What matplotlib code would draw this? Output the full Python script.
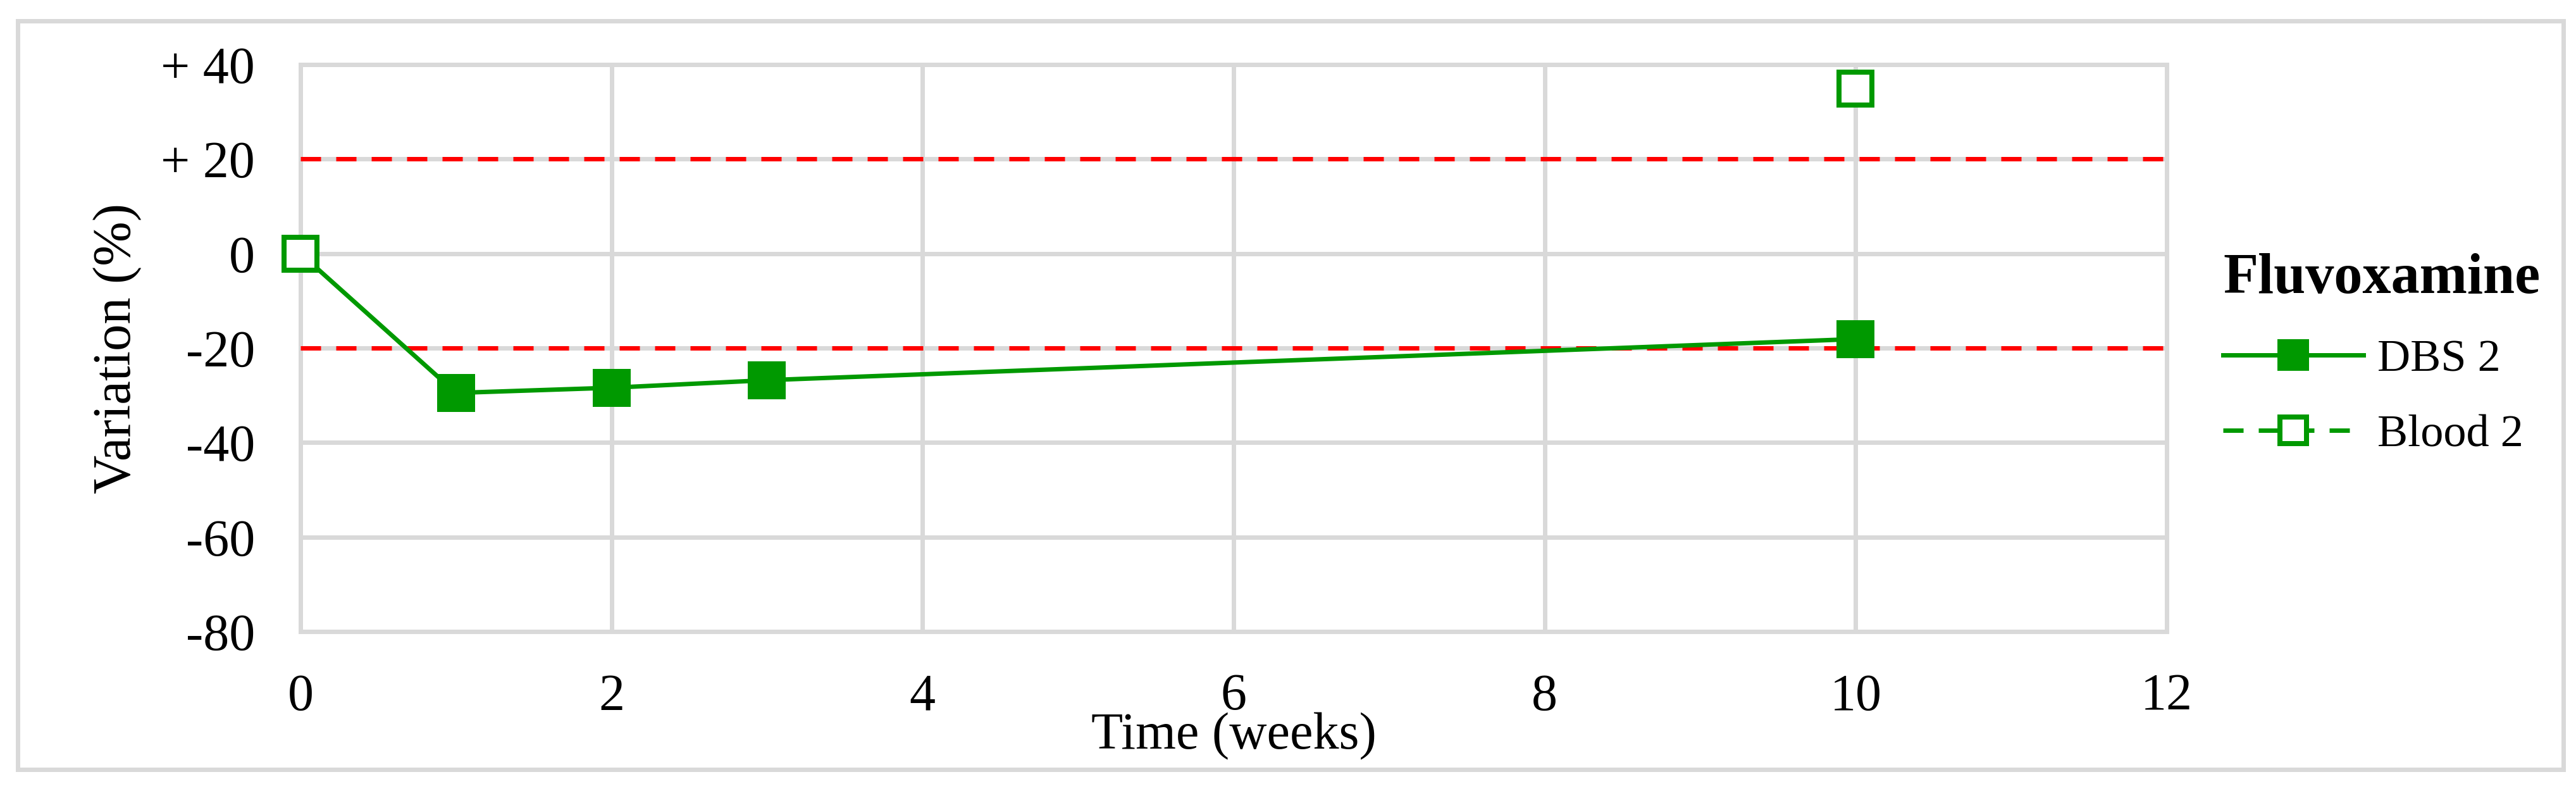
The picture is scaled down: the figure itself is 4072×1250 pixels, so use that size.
import numpy as np
import matplotlib
matplotlib.use("Agg")
import matplotlib.pyplot as plt
from matplotlib.patches import Rectangle

# ---- data ----
weeks = [0, 1, 2, 3, 10]
dbs2 = [0, -29.5, -28.4, -26.8, -18.1]
blood2 = [0, np.nan, np.nan, np.nan, 34.9]
limits = [20, -20]
x_ticks = [0, 2, 4, 6, 8, 10, 12]
y_ticks = [-80, -60, -40, -20, 0, 20, 40]
y_tick_labels = ["-80", "-60", "-40", "-20", "0", "+ 20", "+ 40"]
legend_title = "Fluvoxamine"
series_labels = ["DBS 2", "Blood 2"]

W, H, DPI = 4073, 1250, 100
PX = 72.0 / DPI  # points per pixel

plt.rcParams["font.family"] = ["Liberation Serif", "DejaVu Serif"]

fig = plt.figure(figsize=(W / DPI, H / DPI), dpi=DPI)
fig.patch.set_facecolor("white")

# outer border
fig.patches.append(Rectangle((28 / W, 1 - 1216 / H), (4052 - 28) / W, (1216 - 33) / H,
                             transform=fig.transFigure, fill=False,
                             edgecolor="#d9d9d9", linewidth=7 * PX))

left, right, top, bottom = 475, 3425, 102, 998
ax = fig.add_axes([left / W, 1 - bottom / H, (right - left) / W, (bottom - top) / H])

GREEN = "#009900"
GRID = "#d9d9d9"

ax.set_xlim(0, 12)
ax.set_ylim(-80, 40)
ax.set_xticks(x_ticks)
ax.set_xticklabels([str(t) for t in x_ticks])
ax.set_yticks(y_ticks)
ax.set_yticklabels(y_tick_labels)
ax.grid(True, color=GRID, linewidth=7 * PX, zorder=0)
ax.set_axisbelow(True)
for s in ax.spines.values():
    s.set_color(GRID)
    s.set_linewidth(7 * PX)
    s.set_zorder(0.5)
ax.tick_params(axis="both", length=0, labelsize=59, colors="black")
ax.tick_params(axis="y", pad=72 * PX)
ax.tick_params(axis="x", pad=66 * PX)

dash = (0, (32 / 7, 24 / 7))
for v in limits:
    ax.axhline(v, color="#ff0000", linewidth=7 * PX, linestyle=dash, zorder=1)

ms = 52 * PX
mew = 8 * PX
ax.plot(weeks, dbs2, color=GREEN, linewidth=7 * PX, linestyle="-",
        marker="s", markersize=ms, markerfacecolor=GREEN, markeredgecolor=GREEN,
        markeredgewidth=mew, label=series_labels[0], clip_on=False, zorder=3)
ax.plot(weeks, blood2, color=GREEN, linewidth=7 * PX, linestyle=dash,
        marker="s", markersize=ms, markerfacecolor="white", markeredgecolor=GREEN,
        markeredgewidth=mew, label=series_labels[1], clip_on=False, zorder=4)

ax.set_xlabel("Time (weeks)", fontsize=59)
ax.xaxis.set_label_coords(0.5, (bottom - 1183) / (bottom - top))
ax.xaxis.label.set_va("baseline")

ax.set_ylabel("Variation (%)", fontsize=61)
ax.yaxis.set_label_coords((186 - left) / (right - left), 0.5)
ax.yaxis.label.set_va("center")

leg = ax.legend(loc="upper left", bbox_to_anchor=(3514 / W, 1 - 400 / H),
                bbox_transform=fig.transFigure, frameon=False,
                fontsize=52, title=legend_title,
                title_fontproperties={"size": 65, "weight": "bold"},
                handlelength=3.08, handletextpad=0.3, labelspacing=0.74,
                borderpad=0, borderaxespad=0, markerscale=0.8,
                alignment="left")

fig.savefig("out.png", dpi=DPI, facecolor="white")
